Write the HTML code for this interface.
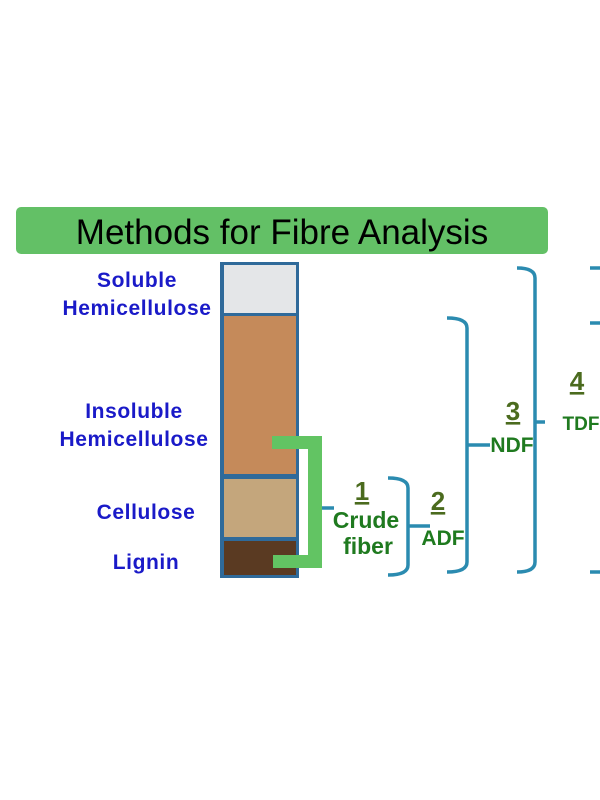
<!DOCTYPE html>
<html><head><style>body{margin:0;background:#fff}svg{display:block}</style></head>
<body>
<svg width="600" height="800" xmlns="http://www.w3.org/2000/svg" font-family="Liberation Sans, Arial, sans-serif">
<rect x="16" y="207" width="532" height="47" rx="5" fill="#63c066"/>
<text x="282" y="244" font-size="35" text-anchor="middle" fill="#000">Methods for Fibre Analysis</text>
<g font-size="21" font-weight="bold" fill="#1a1ac8" text-anchor="middle" letter-spacing="0.6">
<text x="137" y="287">Soluble</text>
<text x="137" y="315">Hemicellulose</text>
<text x="134" y="418">Insoluble</text>
<text x="134" y="446">Hemicellulose</text>
<text x="146" y="519">Cellulose</text>
<text x="146" y="569">Lignin</text>
</g>
<rect x="220" y="262" width="79" height="316" fill="#2f6a9a"/>
<rect x="224" y="265" width="72" height="48" fill="#e4e6e8"/>
<rect x="224" y="316" width="72" height="158" fill="#c58a5a"/>
<rect x="224" y="479" width="72" height="58" fill="#c4a67c"/>
<rect x="224" y="541" width="72" height="34" fill="#5a3a22"/>
<g fill="#62c463">
<rect x="272" y="436" width="50" height="13"/>
<rect x="308" y="436" width="14" height="132"/>
<rect x="273" y="555" width="49" height="13"/>
</g>
<g fill="none" stroke="#2b8bb0" stroke-width="3.5">
<path d="M322 508 H334"/>
<path d="M388 478 Q408 478 408 488 V565 Q408 575 388 575 M408 526 H430"/>
<path d="M447 318 Q467 318 467 328 V562 Q467 572 447 572 M467 445 H490"/>
<path d="M517 268 Q535 268 535 278 V562 Q535 572 517 572 M535 422 H545"/>
<path d="M590 268 H600 M590 323 H600 M590 572 H600"/>
</g>
<g font-weight="bold" text-anchor="middle">
<text x="362" y="500" font-size="26" fill="#4b6b1e" text-decoration="underline">1</text>
<text x="438" y="510" font-size="26" fill="#4b6b1e" text-decoration="underline">2</text>
<text x="513" y="420" font-size="26" fill="#4b6b1e" text-decoration="underline">3</text>
<text x="577" y="390" font-size="26" fill="#4b6b1e" text-decoration="underline">4</text>
<g fill="#1f7a1f" font-size="23">
<text x="366" y="528">Crude</text>
<text x="368" y="554">fiber</text>
<text x="443" y="545" font-size="21">ADF</text>
<text x="512" y="452" font-size="21">NDF</text>
<text x="581" y="430" font-size="19">TDF</text>
</g>
</g>
</svg>
</body></html>
